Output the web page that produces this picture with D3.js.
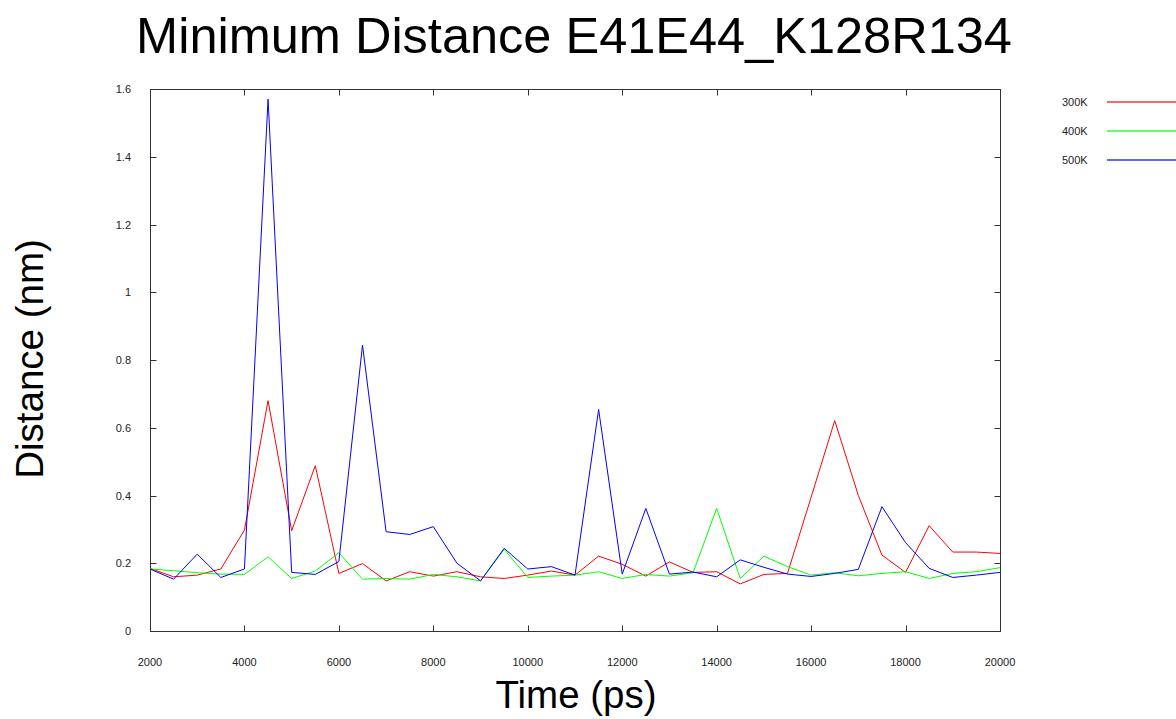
<!DOCTYPE html>
<html>

<head>
	<meta charset="utf-8">
	<title>Minimum Distance</title>
	<script src="https://d3js.org/d3.v7.min.js"></script>
</head>

<style>
	body {
		margin: 0;
		background: #fff;
	}

	text {
		font-family: "Liberation Sans", Arial, sans-serif;
	}

	.tick-label {
		font-size: 11px;
		fill: #222;
	}
</style>

<body>
	<svg id="room"
		 width="1176"
		 height="719">
	</svg>
</body>
<script>
	// time in ps, every 500 from 2000 to 20000
	var times = d3.range(2000, 20001, 500)

	var xTicks = [2000, 4000, 6000, 8000, 10000, 12000, 14000, 16000, 18000, 20000]
	var yTicks = [0, 0.2, 0.4, 0.6, 0.8, 1, 1.2, 1.4, 1.6]

	var seriesNames = ['300K', '400K', '500K']
	var seriesColors = ['#ff0000', '#00ff00', '#0000ff']

	var dist300 = [0.185, 0.16, 0.165, 0.183, 0.298, 0.68, 0.296, 0.488, 0.17, 0.199,
		0.148, 0.175, 0.162, 0.175, 0.16, 0.155, 0.165, 0.177, 0.165, 0.221,
		0.197, 0.162, 0.204, 0.173, 0.175, 0.139, 0.167, 0.17, 0.395, 0.621,
		0.40, 0.224, 0.173, 0.311, 0.233, 0.233, 0.229]

	var dist400 = [0.183, 0.178, 0.172, 0.168, 0.167, 0.219, 0.155, 0.177, 0.231, 0.153,
		0.155, 0.153, 0.167, 0.16, 0.148, 0.241, 0.158, 0.162, 0.165, 0.175,
		0.155, 0.167, 0.162, 0.172, 0.362, 0.155, 0.221, 0.19, 0.165, 0.172,
		0.163, 0.17, 0.175, 0.155, 0.17, 0.175, 0.187]

	var dist500 = [0.183, 0.153, 0.227, 0.158, 0.183, 1.57, 0.173, 0.167, 0.205, 0.844,
		0.293, 0.285, 0.308, 0.2, 0.148, 0.244, 0.183, 0.19, 0.165, 0.654,
		0.168, 0.362, 0.168, 0.174, 0.16, 0.21, 0.188, 0.168, 0.161, 0.17,
		0.182, 0.367, 0.261, 0.185, 0.158, 0.165, 0.173]

	var allSeries = [dist300, dist400, dist500]

	var svg = d3.select('#room')
	// plot box edges in pixels (window.top is taken, so prefixed names)
	var pLeft = 150, pRight = 1000, pTop = 89, pBottom = 631

	var x = d3.scaleLinear().domain([2000, 20000]).range([pLeft, pRight])
	var y = d3.scaleLinear().domain([0, 1.6]).range([pBottom, pTop])

	// frame
	svg.append('rect')
		.attr('x', pLeft + 0.5)
		.attr('y', pTop + 0.5)
		.attr('width', pRight - pLeft)
		.attr('height', pBottom - pTop)
		.attr('fill', 'none')
		.attr('stroke', '#333')
		.attr('stroke-width', 1)

	// inward ticks on all four sides
	var tickLen = 6
	xTicks.forEach(function (t) {
		var px = Math.round(x(t)) + 0.5
		svg.append('line').attr('x1', px).attr('x2', px)
			.attr('y1', pBottom + 0.5).attr('y2', pBottom + 0.5 - tickLen)
			.attr('stroke', '#333')
		svg.append('line').attr('x1', px).attr('x2', px)
			.attr('y1', pTop + 0.5).attr('y2', pTop + 0.5 + tickLen)
			.attr('stroke', '#333')
		svg.append('text')
			.attr('class', 'tick-label')
			.attr('x', x(t))
			.attr('y', 666)
			.attr('text-anchor', 'middle')
			.text(t)
	})

	yTicks.forEach(function (v) {
		var py = Math.round(y(v)) + 0.5
		svg.append('line').attr('x1', pLeft + 0.5).attr('x2', pLeft + 0.5 + tickLen)
			.attr('y1', py).attr('y2', py)
			.attr('stroke', '#333')
		svg.append('line').attr('x1', pRight + 0.5).attr('x2', pRight + 0.5 - tickLen)
			.attr('y1', py).attr('y2', py)
			.attr('stroke', '#333')
		svg.append('text')
			.attr('class', 'tick-label')
			.attr('x', 131)
			.attr('y', y(v) + 4)
			.attr('text-anchor', 'end')
			.text(d3.format('~g')(v))
	})

	// series lines
	var line = d3.line()
		.x(function (d, i) { return x(times[i]) })
		.y(function (d) { return y(d) })

	allSeries.forEach(function (s, k) {
		svg.append('path')
			.datum(s)
			.attr('d', line)
			.attr('fill', 'none')
			.attr('stroke', seriesColors[k])
			.attr('stroke-width', 1)
	})

	// legend
	seriesNames.forEach(function (name, k) {
		var ly = 102 + k * 29
		svg.append('text')
			.attr('x', 1062)
			.attr('y', ly + 4)
			.style('font-size', '11px')
			.attr('fill', '#222')
			.text(name)
		svg.append('line')
			.attr('x1', 1107).attr('x2', 1176)
			.attr('y1', ly).attr('y2', ly)
			.attr('stroke', seriesColors[k])
			.attr('stroke-opacity', 0.6)
			.attr('stroke-width', 2)
	})

	// title and axis labels
	svg.append('text')
		.attr('x', 574)
		.attr('y', 53)
		.attr('text-anchor', 'middle')
		.style('font-size', '50.5px')
		.text('Minimum Distance E41E44_K128R134')

	svg.append('text')
		.attr('x', 576)
		.attr('y', 708)
		.attr('text-anchor', 'middle')
		.style('font-size', '38.5px')
		.text('Time (ps)')

	svg.append('text')
		.attr('transform', 'translate(43,359) rotate(-90)')
		.attr('text-anchor', 'middle')
		.style('font-size', '38.5px')
		.text('Distance (nm)')
</script>

</html>
